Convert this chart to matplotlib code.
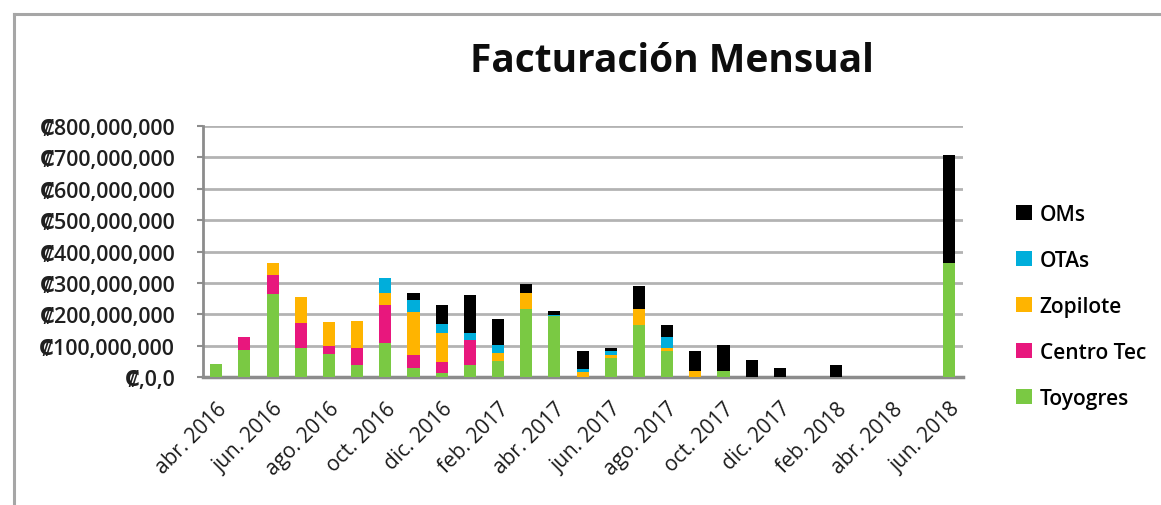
import matplotlib
matplotlib.use("Agg")
import matplotlib.pyplot as plt
from matplotlib.patches import Patch
from matplotlib.lines import Line2D
import numpy as np

# Monthly billing per business line (colones)
months = ["abr. 2016", "may. 2016", "jun. 2016", "jul. 2016", "ago. 2016", "sep. 2016",
          "oct. 2016", "nov. 2016", "dic. 2016", "ene. 2017", "feb. 2017", "mar. 2017",
          "abr. 2017", "may. 2017", "jun. 2017", "jul. 2017", "ago. 2017", "sep. 2017",
          "oct. 2017", "nov. 2017", "dic. 2017", "ene. 2018", "feb. 2018", "mar. 2018",
          "abr. 2018", "may. 2018", "jun. 2018"]

toyogres = [42e6, 87e6, 265e6, 92e6, 73e6, 39e6, 108e6, 29e6, 13e6, 39e6, 52e6, 218e6,
            193e6, 0, 60e6, 165e6, 82e6, 0, 18e6, 0, 0, 0, 0, 0, 0, 0, 363e6]
centro_tec = [0, 39e6, 61e6, 80e6, 25e6, 52e6, 120e6, 40e6, 35e6, 80e6, 0, 0,
              0, 0, 0, 0, 0, 0, 0, 0, 0, 0, 0, 0, 0, 0, 0]
zopilote = [0, 0, 37e6, 82e6, 77e6, 86e6, 40e6, 138e6, 92e6, 0, 24e6, 50e6,
            0, 15e6, 11e6, 52e6, 12e6, 18e6, 0, 0, 0, 0, 0, 0, 0, 0, 0]
otas = [0, 0, 0, 0, 0, 0, 46e6, 39e6, 30e6, 21e6, 27e6, 0,
        6e6, 10e6, 13e6, 0, 33e6, 0, 0, 0, 0, 0, 0, 0, 0, 0, 0]
oms = [0, 0, 0, 0, 0, 0, 0, 22e6, 58e6, 120e6, 83e6, 29e6,
       10e6, 59e6, 8e6, 72e6, 38e6, 66e6, 83e6, 53e6, 29e6, 0, 39e6, 0, 0, 0, 345e6]

series = [("Toyogres", toyogres, "#7ac943"),
          ("Centro Tec", centro_tec, "#e8177d"),
          ("Zopilote", zopilote, "#ffb400"),
          ("OTAs", otas, "#00aedb"),
          ("OMs", oms, "#000000")]

y_ticks = np.arange(0, 800e6 + 1, 100e6)
y_labels = ["₡,0,0"] + ["₡{:,}".format(int(v)) for v in y_ticks[1:]]

FONT = ["Open Sans", "DejaVu Sans"]
plt.rcParams["font.family"] = FONT

fig = plt.figure(figsize=(11.61, 5.06), dpi=100)
fig.patch.set_facecolor("white")

# outer chart frame
fig.add_artist(Line2D([14 / 1161, 14 / 1161], [0, 1 - 15 / 506], color="#a6a6a6", lw=2.2))
fig.add_artist(Line2D([14 / 1161, 1], [1 - 15 / 506, 1 - 15 / 506], color="#a6a6a6", lw=2.2))

ax = fig.add_axes([203 / 1161, 1 - 378 / 506, 760 / 1161, 251 / 506])
x = np.arange(len(months))
bottom = np.zeros(len(months))
for name, vals, color in series:
    vals = np.array(vals, dtype=float)
    ax.bar(x, vals, width=0.43, bottom=bottom, color=color, label=name, zorder=3)
    bottom += vals

ax.set_xlim(-0.47, 26.5)
ax.set_ylim(0, 800e6)
ax.set_yticks(y_ticks)
ax.set_yticklabels(y_labels, fontsize=15.5, color="#1f1f1f", fontweight="semibold")
ax.set_xticks(x[::2])
ax.set_xticklabels(months[::2], rotation=45, ha="right", rotation_mode="anchor",
                   fontsize=15, color="#1a1a1a")
ax.tick_params(axis="x", length=0, pad=15)
ax.tick_params(axis="y", length=4, color="#8c8c8c", width=1.5, pad=16)
ax.yaxis.grid(True, color="#b3b3b3", lw=2, zorder=0)
ax.set_axisbelow(True)
for s in ["top", "right"]:
    ax.spines[s].set_visible(False)
ax.spines["left"].set_color("#8c8c8c")
ax.spines["left"].set_linewidth(2)
ax.spines["bottom"].set_color("#8c8c8c")
ax.spines["bottom"].set_linewidth(2.5)

fig.text(672 / 1161, 1 - 62 / 506, "Facturación Mensual", ha="center", va="center",
         fontsize=28, fontweight="bold", color="#0d0d0d")

handles = [Patch(facecolor=c, label=n) for n, _, c in reversed(series)]
fig.legend(handles=handles, loc="upper left", bbox_to_anchor=(997 / 1161, 1 - 186 / 506),
           frameon=False, labelspacing=1.2, handlelength=0.8,
           handleheight=0.8, handletextpad=0.35,
           prop={"family": FONT, "size": 15, "weight": "semibold"})

fig.savefig("out.png", dpi=100, facecolor="white")
